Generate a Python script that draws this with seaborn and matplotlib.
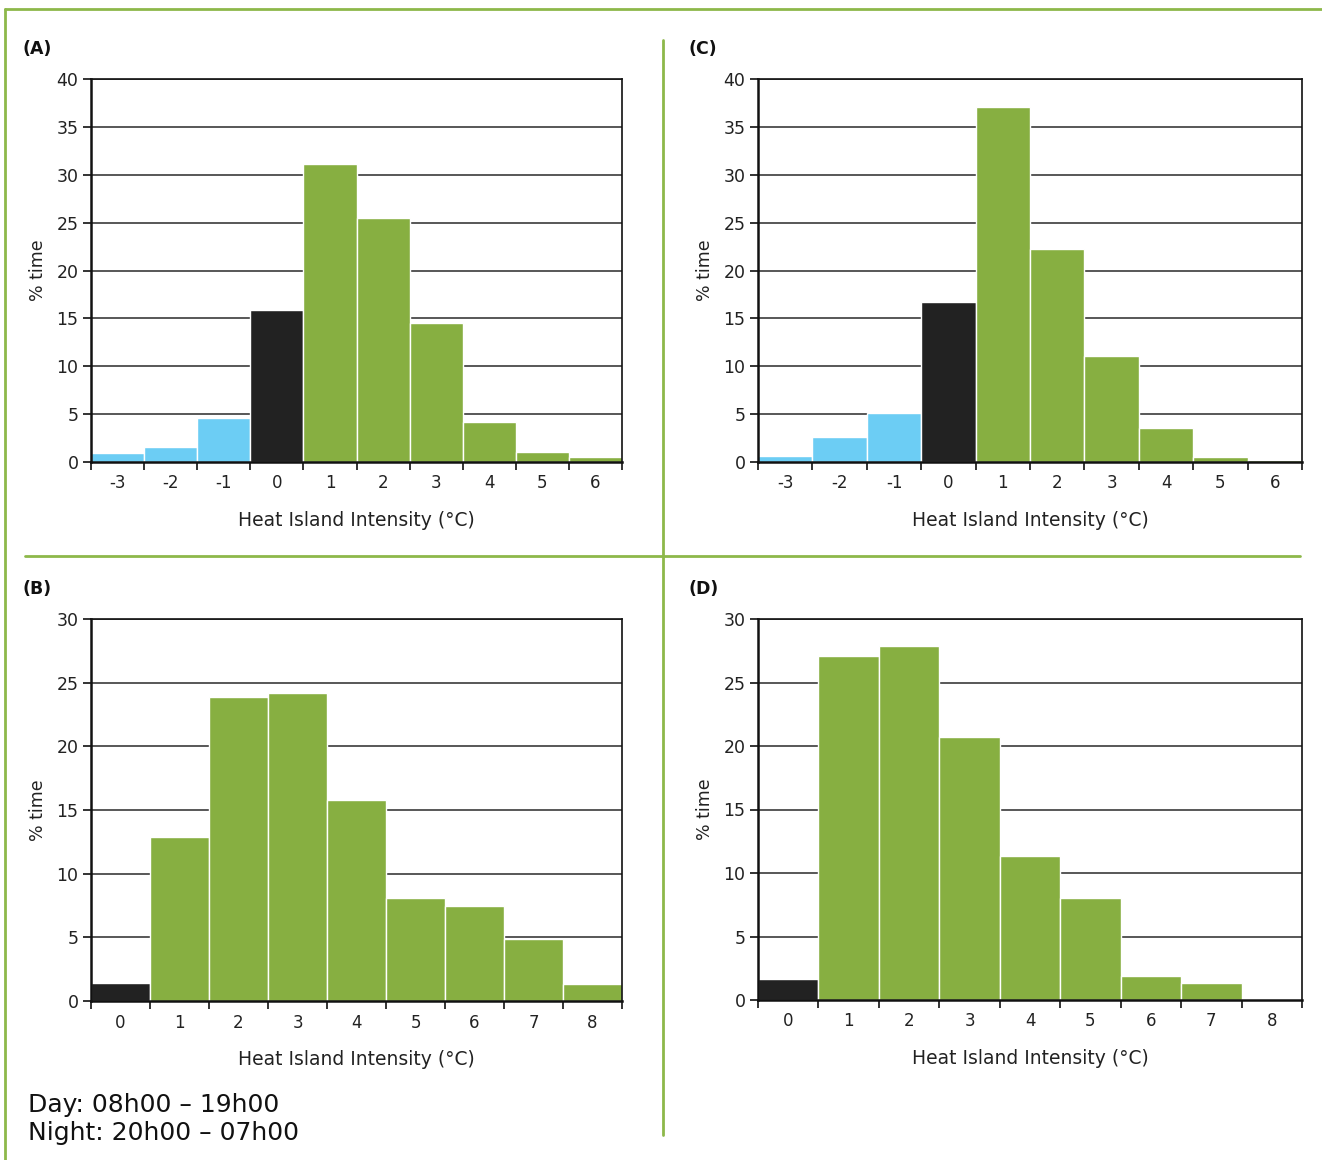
import matplotlib
matplotlib.use("Agg")
import matplotlib.pyplot as plt
from matplotlib.lines import Line2D
from matplotlib.ticker import FixedLocator, NullFormatter
import seaborn as sns
import pandas as pd

# Heat island intensity bins (°C) and share of time (%)
bins_ac = ["-3", "-2", "-1", "0", "1", "2", "3", "4", "5", "6"]
bins_bd = ["0", "1", "2", "3", "4", "5", "6", "7", "8"]

pct_a = [0.9, 1.6, 4.6, 15.9, 31.1, 25.5, 14.5, 4.2, 1.0, 0.5]
pct_c = [0.6, 2.6, 5.1, 16.7, 37.1, 22.2, 11.1, 3.6, 0.5, 0.2]
pct_b = [1.4, 12.9, 23.9, 24.2, 15.8, 8.1, 7.5, 4.9, 1.3]
pct_d = [1.65, 27.1, 27.9, 20.7, 11.3, 8.0, 1.9, 1.35, 0.1]

panel_names = ["(A)", "(C)", "(B)", "(D)"]
x_title = "Heat Island Intensity (°C)"
y_title = "% time"
legend_lines = ["Day: 08h00 – 19h00", "Night: 20h00 – 07h00"]

GREEN = "#87AF41"
BLUE = "#6CCDF4"
BLACK = "#222222"
RULE = "#8DB84A"

sns.set_theme(style="white")
plt.rcParams["font.family"] = ["DejaVu Sans"]

W, H = 1322, 1160
fig = plt.figure(figsize=(W / 100, H / 100), dpi=100)


def bar_color(label):
    v = int(label)
    if v < 0:
        return BLUE
    if v == 0:
        return BLACK
    return GREEN


def add_panel(box, bins, values, ymax, ystep, name):
    l, t, r, b = box
    ax = fig.add_axes([l / W, 1 - b / H, (r - l) / W, (b - t) / H])
    df = pd.DataFrame({"bin": bins, "pct": values})
    sns.barplot(data=df, x="bin", y="pct", hue="bin", order=bins,
                hue_order=bins, palette={k: bar_color(k) for k in bins},
                width=1.0, dodge=False, legend=False, edgecolor="white",
                linewidth=1.0, saturation=1, ax=ax)
    n = len(bins)
    ax.set_xlim(-0.5, n - 0.5)
    ax.set_ylim(0, ymax)
    ax.set_yticks(range(0, ymax + 1, ystep))
    ax.yaxis.grid(True, color="#2a2a2a", linewidth=1.1)
    ax.set_axisbelow(True)
    # tick marks on bin edges, labels on bin centres
    ax.xaxis.set_major_locator(FixedLocator([i - 0.5 for i in range(n + 1)]))
    ax.xaxis.set_major_formatter(NullFormatter())
    ax.xaxis.set_minor_locator(FixedLocator(list(range(n))))
    ax.set_xticklabels(bins, minor=True)
    ax.tick_params(axis="x", which="major", direction="out", length=6,
                   width=1.2, color="#111111", bottom=True)
    ax.tick_params(axis="x", which="minor", length=0, pad=9,
                   labelsize=12, labelcolor="#222222")
    ax.tick_params(axis="y", direction="out", length=6, width=1.2,
                   color="#111111", left=True, labelsize=12.5,
                   labelcolor="#222222", pad=3)
    for s in ax.spines.values():
        s.set_visible(True)
        s.set_color("#111111")
        s.set_linewidth(1.2)
    ax.spines["left"].set_linewidth(1.8)
    ax.spines["bottom"].set_linewidth(1.8)
    ax.set_xlabel(x_title, fontsize=13.5, color="#222222", labelpad=13)
    ax.set_ylabel(y_title, fontsize=12.5, color="#222222")
    ax.yaxis.set_label_coords(-44 / (r - l), 0.5)
    fig.text((l - 69) / W, 1 - (t - 30) / H, name, fontsize=12.5,
             fontweight="bold", color="#111111", va="center", ha="left")
    return ax


add_panel((91, 79, 622, 462), bins_ac, pct_a, 40, 5, panel_names[0])
add_panel((758, 79, 1302, 462), bins_ac, pct_c, 40, 5, panel_names[1])
add_panel((91, 619, 622, 1001), bins_bd, pct_b, 30, 5, panel_names[2])
add_panel((758, 619, 1302, 1000), bins_bd, pct_d, 30, 5, panel_names[3])

# frame rules between panels
def rule(x0, y0, x1, y1, lw=2.0):
    fig.add_artist(Line2D([x0 / W, x1 / W], [1 - y0 / H, 1 - y1 / H],
                          transform=fig.transFigure, color=RULE, linewidth=lw))

rule(5, 9, 1322, 9)
rule(5, 9, 5, 1160)
rule(25, 556, 1300, 556)
rule(663, 40, 663, 1135)

fig.text(28 / W, 1 - 1105 / H, legend_lines[0], fontsize=18, color="#111111",
         va="center", ha="left")
fig.text(28 / W, 1 - 1133 / H, legend_lines[1], fontsize=18, color="#111111",
         va="center", ha="left")

fig.savefig("out.png", dpi=100)
